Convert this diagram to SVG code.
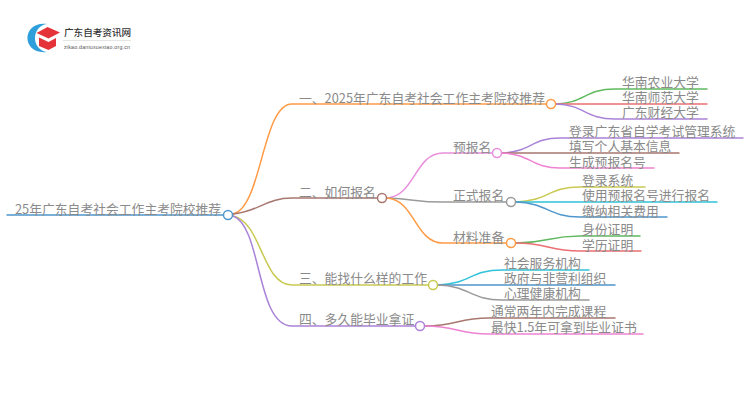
<svg xmlns="http://www.w3.org/2000/svg" width="750" height="410" viewBox="0 0 750 410">
<style>
text{font-family:"Noto Sans CJK SC","Liberation Sans",sans-serif;font-size:12.8px;fill:#8a8a8a}
.c path{fill:none;stroke-width:1.5;stroke-linecap:round}
circle{fill:#fff;stroke-width:1.5}
.or{stroke:#ff9a45}.br{stroke:#a87770}.ye{stroke:#c9c951}.pu{stroke:#aa83d8}.bl{stroke:#4f97cc}.gr{stroke:#5fb95f}.re{stroke:#ec6f72}.pk{stroke:#e98fdc}.hp{stroke:#ee82d2}.gy{stroke:#9a9a9a}.cy{stroke:#2fc3d9}
</style>
<g id="logo">
<path d="M47 24C21 21 21 55 47 52C31 50 31 26 47 24Z" fill="#2f9fdc"/>
<path d="M36.500 33L47.500 27L60 32.500L48.500 38.500Z" fill="#e5333a"/>
<path d="M39 37.500L48.500 42L56 38V46L48.500 50L39 46Z" fill="#e5333a"/>
<text x="64" y="35.500" style="font-size:9.600px;fill:#333;font-weight:500">广东自考资讯网</text>
<path d="M63 40.500H131" stroke="#e4e4e4" stroke-width="1" fill="none"/>
<text x="64" y="48.500" style="font-size:5.300px;fill:#555;font-family:'Liberation Sans',sans-serif;letter-spacing:.2px">zikao.daniuxuexiao.org.cn</text>
</g>
<g id="connectors" class="c">
<path class="bl" d="M7 215H223"/>
<path class="or" d="M233 214C262 208 262 104 292 104H546"/>
<path class="br" d="M233 214C258 212 266 198 292 198H377"/>
<path class="ye" d="M233 216C262 222 262 285 292 285H428"/>
<path class="pu" d="M233 216C262 226 256 326 292 326H415"/>
<path class="gr" d="M556 104C585 103 585 89 615 89H707"/>
<path class="re" d="M556 104H707"/>
<path class="pu" d="M556 104C585 105 585 119 615 119H707"/>
<path class="pk" d="M387 198C415 196 415 153 443 153H492"/>
<path class="gy" d="M387 198C415 199 415 202 443 202H506"/>
<path class="or" d="M387 198C415 200 415 243 443 243H506"/>
<path class="pu" d="M502 153C531 152 531 138 560 138H743"/>
<path class="br" d="M502 153H679"/>
<path class="hp" d="M502 153C531 154 531 168 560 168H654"/>
<path class="ye" d="M516 202C548 201 548 187 580 187H645"/>
<path class="cy" d="M516 202H717"/>
<path class="bl" d="M516 202C548 203 548 217 580 217H667"/>
<path class="gr" d="M516 243C548 243 548 236 580 236H640"/>
<path class="re" d="M516 243C548 243 548 251 580 251H641"/>
<path class="cy" d="M438 285C470 284 470 270 502 270H589"/>
<path class="bl" d="M438 285H615"/>
<path class="gy" d="M438 285C470 286 470 300 502 300H589"/>
<path class="br" d="M425 326C457 326 457 318 489 318H615"/>
<path class="hp" d="M425 326C457 326 457 334 489 334H643"/>
</g>
<g id="root"><text x="15" y="214">25年广东自考社会工作主考院校推荐</text><circle class="bl" cx="228" cy="215" r="4.500"/></g>
<g id="n1"><text x="299" y="103">一、2025年广东自考社会工作主考院校推荐</text><circle class="or" cx="551" cy="104" r="4.500"/></g>
<g id="n1a"><text x="622" y="87">华南农业大学</text></g>
<g id="n1b"><text x="622" y="102">华南师范大学</text></g>
<g id="n1c"><text x="622" y="117">广东财经大学</text></g>
<g id="n2"><text x="299" y="197">二、如何报名</text><circle class="br" cx="382" cy="198" r="4.500"/></g>
<g id="n21"><text x="453" y="152">预报名</text><circle class="pk" cx="497" cy="153" r="4.500"/></g>
<g id="n21a"><text x="569" y="136">登录广东省自学考试管理系统</text></g>
<g id="n21b"><text x="569" y="151">填写个人基本信息</text></g>
<g id="n21c"><text x="569" y="167">生成预报名号</text></g>
<g id="n22"><text x="453" y="200">正式报名</text><circle class="gy" cx="511" cy="202" r="4.500"/></g>
<g id="n22a"><text x="582" y="185">登录系统</text></g>
<g id="n22b"><text x="582" y="200">使用预报名号进行报名</text></g>
<g id="n22c"><text x="582" y="216">缴纳相关费用</text></g>
<g id="n23"><text x="453" y="242">材料准备</text><circle class="or" cx="511" cy="243" r="4.500"/></g>
<g id="n23a"><text x="582" y="234">身份证明</text></g>
<g id="n23b"><text x="582" y="250">学历证明</text></g>
<g id="n3"><text x="299" y="283">三、能找什么样的工作</text><circle class="ye" cx="433" cy="285" r="4.500"/></g>
<g id="n3a"><text x="504" y="268">社会服务机构</text></g>
<g id="n3b"><text x="504" y="283">政府与非营利组织</text></g>
<g id="n3c"><text x="504" y="298">心理健康机构</text></g>
<g id="n4"><text x="299" y="324">四、多久能毕业拿证</text><circle class="pu" cx="420" cy="326" r="4.500"/></g>
<g id="n4a"><text x="491" y="316">通常两年内完成课程</text></g>
<g id="n4b"><text x="491" y="332">最快1.5年可拿到毕业证书</text></g>
</svg>
